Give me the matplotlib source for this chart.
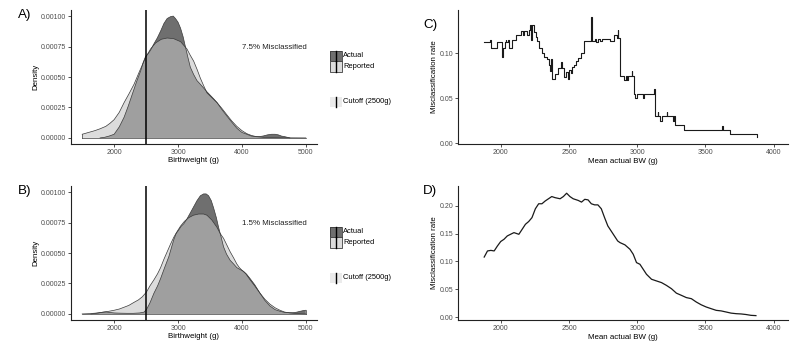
import matplotlib
matplotlib.use("Agg")
import matplotlib.pyplot as plt
from matplotlib.patches import Rectangle

plt.rcParams['font.family'] = ['Liberation Sans', 'DejaVu Sans']

# ---- panel A densities (7.5% misclassified) ----
a_act_x = [1780, 1850, 1920, 2000, 2080, 2156, 2220, 2285, 2350, 2415, 2455, 2493, 2530, 2570,
           2620, 2675, 2730, 2780, 2830, 2882, 2925, 2960, 3000, 3040, 3080, 3115, 3155, 3193,
           3245, 3297, 3350, 3400, 3450, 3505, 3560, 3610, 3690, 3764, 3840, 3920, 4000, 4076,
           4150, 4230, 4290, 4335, 4400, 4465, 4520, 4570, 4620, 4672, 4750]
a_act_y = [0, 0.05, 0.15, 0.3, 0.9, 1.7, 2.6, 3.6, 4.6, 5.5, 6.2, 6.7, 6.9, 7.2,
           7.7, 8.2, 8.8, 9.4, 9.8, 9.95, 10.0, 9.8, 9.5, 9.0, 8.3, 7.5, 6.6, 5.8,
           5.2, 4.7, 4.4, 4.1, 3.8, 3.5, 3.2, 2.9, 2.3, 1.8, 1.3, 0.8, 0.45, 0.3,
           0.15, 0.1, 0.12, 0.16, 0.25, 0.3, 0.3, 0.25, 0.15, 0.1, 0]
a_rep_x = [1500, 1600, 1700, 1780, 1870, 1935, 2000, 2080, 2156, 2230, 2311, 2400, 2493, 2570,
           2650, 2740, 2830, 2930, 3040, 3090, 3140, 3190, 3245, 3300, 3350, 3400, 3453, 3530,
           3610, 3690, 3764, 3840, 3920, 4000, 4076, 4150, 4230, 4350, 4500, 4700, 5000]
a_rep_y = [0.3, 0.45, 0.6, 0.75, 0.95, 1.2, 1.5, 2.1, 2.9, 3.6, 4.4, 5.5, 6.6, 7.3,
           7.8, 8.1, 8.2, 8.15, 7.9, 7.6, 7.3, 6.8, 6.3, 5.6, 4.9, 4.3, 3.7, 3.3,
           2.9, 2.4, 1.9, 1.4, 0.95, 0.6, 0.35, 0.2, 0.1, 0.04, 0.02, 0.01, 0.0]

# ---- panel B densities (1.5% misclassified) ----
b_act_x = [1637, 1700, 1760, 1820, 1870, 1930, 2000, 2100, 2200, 2300, 2400, 2470, 2510, 2560,
           2623, 2680, 2727, 2790, 2856, 2900, 2934, 2970, 3012, 3050, 3090, 3140, 3193, 3245,
           3297, 3350, 3400, 3440, 3478, 3520, 3557, 3600, 3635, 3675, 3713, 3760, 3816, 3870,
           3920, 3970, 4024, 4075, 4128, 4200, 4283, 4360, 4439, 4520, 4595, 4670, 4750, 4800,
           4854, 4900, 4958, 5000]
b_act_y = [0, 0.03, 0.08, 0.14, 0.16, 0.12, 0.08, 0.06, 0.05, 0.05, 0.08, 0.15, 0.4, 0.9,
           1.7, 2.3, 2.9, 3.8, 4.7, 5.5, 6.1, 6.6, 6.9, 7.2, 7.4, 7.8, 8.3, 8.8,
           9.3, 9.7, 9.85, 9.85, 9.7, 9.3, 8.7, 7.9, 7.1, 6.3, 5.5, 4.9, 4.4, 4.1,
           3.8, 3.65, 3.5, 3.25, 2.9, 2.4, 1.7, 1.1, 0.65, 0.35, 0.22, 0.12, 0.1, 0.1,
           0.14, 0.2, 0.27, 0.3]
b_rep_x = [1500, 1600, 1700, 1800, 1844, 1900, 2000, 2080, 2156, 2230, 2311, 2380, 2440, 2507,
           2560, 2623, 2680, 2727, 2780, 2830, 2880, 2934, 2990, 3038, 3100, 3168, 3240, 3323,
           3400, 3453, 3530, 3610, 3660, 3713, 3760, 3816, 3870, 3920, 3960, 3998, 4060, 4128,
           4200, 4283, 4360, 4439, 4520, 4595, 4670, 4750, 4850, 5000]
b_rep_y = [0.0, 0.02, 0.06, 0.12, 0.16, 0.2, 0.3, 0.4, 0.55, 0.7, 0.95, 1.15, 1.4, 1.8,
           2.3, 2.8, 3.3, 3.8, 4.5, 5.1, 5.7, 6.3, 6.8, 7.2, 7.6, 7.9, 8.1, 8.2,
           8.2, 8.1, 7.7, 7.1, 6.6, 6.2, 5.7, 5.1, 4.6, 4.1, 3.8, 3.6, 3.3, 2.8,
           2.3, 1.7, 1.2, 0.8, 0.5, 0.3, 0.15, 0.08, 0.03, 0.0]

# ---- panel C: step misclassification rate ----
c_x = [1879, 1925, 1928, 1976, 2008, 2018, 2030, 2036, 2040, 2055, 2062, 2080, 2100, 2110,
       2150, 2160, 2170, 2195, 2205, 2215, 2222, 2228, 2245, 2255, 2268, 2280, 2300, 2320,
       2340, 2355, 2360, 2368, 2374, 2398, 2420, 2440, 2452, 2465, 2478, 2490, 2500, 2515,
       2522, 2535, 2550, 2565, 2590, 2612, 2660, 2664, 2670, 2690, 2700, 2710, 2725, 2745,
       2785, 2800, 2830, 2850, 2857, 2862, 2874, 2905, 2915, 2925, 2935, 2960, 2965, 2975,
       2985, 2995, 3045, 3050, 3125, 3130, 3150, 3155, 3170, 3180, 3220, 3222, 3260, 3270,
       3280, 3345, 3620, 3630, 3680, 3875, 3880]
c_y = [0.112, 0.115, 0.106, 0.112, 0.096, 0.106, 0.112, 0.115, 0.112, 0.115, 0.106, 0.115, 0.115, 0.120,
       0.125, 0.120, 0.125, 0.120, 0.126, 0.131, 0.115, 0.131, 0.123, 0.118, 0.113, 0.106, 0.100, 0.096,
       0.093, 0.087, 0.080, 0.093, 0.071, 0.077, 0.083, 0.090, 0.083, 0.074, 0.079, 0.071, 0.081, 0.078,
       0.085, 0.087, 0.091, 0.095, 0.100, 0.113, 0.113, 0.140, 0.113, 0.116, 0.112, 0.116, 0.113, 0.116,
       0.116, 0.113, 0.120, 0.117, 0.126, 0.117, 0.075, 0.070, 0.075, 0.070, 0.075, 0.080, 0.075, 0.055,
       0.050, 0.055, 0.050, 0.055, 0.060, 0.030, 0.035, 0.030, 0.025, 0.030, 0.035, 0.030, 0.025, 0.030,
       0.020, 0.015, 0.019, 0.015, 0.010, 0.007, 0.007]

# ---- panel D: smoothed misclassification rate ----
d_x = [1879, 1903, 1928, 1952, 1976, 2000, 2024, 2048, 2072, 2097, 2121, 2133, 2157, 2181,
       2205, 2229, 2254, 2278, 2302, 2326, 2350, 2374, 2398, 2435, 2459, 2483, 2507, 2531,
       2568, 2592, 2616, 2640, 2664, 2688, 2712, 2737, 2761, 2785, 2809, 2833, 2857, 2874,
       2910, 2947, 2971, 2995, 3020, 3044, 3068, 3105, 3141, 3178, 3214, 3251, 3287, 3324,
       3360, 3397, 3433, 3469, 3506, 3542, 3579, 3615, 3652, 3688, 3725, 3761, 3797, 3834, 3870]
d_y = [0.108, 0.119, 0.120, 0.119, 0.128, 0.136, 0.140, 0.146, 0.149, 0.152, 0.150, 0.149, 0.158, 0.167,
       0.172, 0.179, 0.195, 0.204, 0.204, 0.209, 0.213, 0.217, 0.215, 0.213, 0.217, 0.223, 0.217, 0.213,
       0.210, 0.207, 0.212, 0.211, 0.204, 0.202, 0.202, 0.195, 0.179, 0.164, 0.155, 0.146, 0.137, 0.134,
       0.130, 0.122, 0.113, 0.098, 0.095, 0.086, 0.077, 0.068, 0.065, 0.062, 0.057, 0.051, 0.043, 0.039,
       0.035, 0.033, 0.027, 0.022, 0.018, 0.015, 0.012, 0.011, 0.009, 0.007, 0.006, 0.0055, 0.0045, 0.003, 0.0025]

cutoff = 2500
misclass_labels = ['7.5% Misclassified', '1.5% Misclassified']
legend_labels = ['Actual', 'Reported', 'Cutoff (2500g)']
dens_ticks = [0, 0.00025, 0.0005, 0.00075, 0.001]

ACT_COL, REP_COL, ALPHA = '#080808', '#c3c3c3', 0.586
EDGE = '#3a3a3a'
TICK_COL = '#4d4d4d'
TICK_FS, TITLE_FS = 5.0, 5.7

fig = plt.figure(figsize=(8, 3.52), dpi=100)
ax_a = fig.add_axes([0.08875, 0.5909, 0.3075, 0.3807])
ax_b = fig.add_axes([0.08875, 0.0909, 0.3075, 0.3807])
ax_c = fig.add_axes([0.5725, 0.5909, 0.4125, 0.3807])
ax_d = fig.add_axes([0.5725, 0.0909, 0.4125, 0.3807])


def style(ax):
    for s in ['top', 'right']:
        ax.spines[s].set_visible(False)
    for s in ['left', 'bottom']:
        ax.spines[s].set_linewidth(0.8)
        ax.spines[s].set_color('#222222')
    ax.tick_params(labelsize=TICK_FS, labelcolor=TICK_COL, color='#333333',
                   length=2, width=0.6, pad=1.5)


def legend_key(ax, x0, y0, y1, face, alpha, edge, line_x):
    ax.add_patch(Rectangle((x0, y0), 0.047, y1 - y0, transform=ax.transAxes, clip_on=False,
                           facecolor=face, alpha=alpha, edgecolor='none'))
    if edge:
        ax.add_patch(Rectangle((x0, y0), 0.047, y1 - y0, transform=ax.transAxes, clip_on=False,
                               facecolor='none', edgecolor=edge, lw=0.6))
    ax.plot([line_x, line_x], [y0, y1], transform=ax.transAxes, clip_on=False,
            color='black', lw=1.0)


def density_panel(ax, ax_x, ax_y, rep_x, rep_y, label):
    ay = [v * 1e-4 for v in ax_y]
    ry = [v * 1e-4 for v in rep_y]
    ax.fill_between(ax_x, ay, 0, facecolor=ACT_COL, alpha=ALPHA, edgecolor='none')
    ax.fill_between(rep_x, ry, 0, facecolor=REP_COL, alpha=ALPHA, edgecolor='none')
    ax.plot(ax_x, ay, color=EDGE, lw=0.5)
    ax.plot(rep_x, ry, color=EDGE, lw=0.5)
    ax.plot([rep_x[0], rep_x[0]], [0, ry[0]], color=EDGE, lw=0.5)
    ax.plot([ax_x[-1], ax_x[-1]], [0, ay[-1]], color=EDGE, lw=0.5)
    ax.plot([min(ax_x[0], rep_x[0]), max(ax_x[-1], rep_x[-1])], [0, 0], color=EDGE, lw=0.5)
    ax.axvline(cutoff, color='black', lw=1.1)
    ax.set_xlim(1325, 5175)
    ax.set_ylim(-0.00005, 0.00105)
    ax.set_xticks([2000, 3000, 4000, 5000])
    ax.set_yticks(dens_ticks)
    ax.set_yticklabels(['%.5f' % t for t in dens_ticks])
    ax.set_xlabel('Birthweight (g)', fontsize=TITLE_FS)
    ax.set_ylabel('Density', fontsize=TITLE_FS)
    ax.xaxis.set_label_coords(0.5, -0.1)
    ax.yaxis.set_label_coords(-0.13, 0.5)
    ax.text(4510, 0.000745, label, fontsize=5.7, ha='center', va='center', color='#222222')
    style(ax)

    # legend drawn as in ggplot: filled keys with the vline running through them
    legend_key(ax, 1.053, 0.622, 0.696, ACT_COL, ALPHA, EDGE, 1.0765)
    legend_key(ax, 1.053, 0.540, 0.622, REP_COL, ALPHA, EDGE, 1.0765)
    legend_key(ax, 1.053, 0.278, 0.353, '#ebebeb', 1.0, None, 1.077)
    ax.text(1.106, 0.659, legend_labels[0], transform=ax.transAxes, fontsize=5.4, va='center')
    ax.text(1.106, 0.581, legend_labels[1], transform=ax.transAxes, fontsize=5.4, va='center')
    ax.text(1.106, 0.316, legend_labels[2], transform=ax.transAxes, fontsize=5.4, va='center')


density_panel(ax_a, a_act_x, a_act_y, a_rep_x, a_rep_y, misclass_labels[0])
density_panel(ax_b, b_act_x, b_act_y, b_rep_x, b_rep_y, misclass_labels[1])

# C
ax_c.step(c_x, c_y, where='post', color='#1a1a1a', lw=0.8)
ax_c.set_xlim(1687, 4105)
ax_c.set_ylim(-0.001, 0.148)
ax_c.set_yticks([0, 0.05, 0.10])
ax_c.set_yticklabels(['0.00', '0.05', '0.10'])

# D
ax_d.plot(d_x, d_y, color='#1a1a1a', lw=0.9)
ax_d.set_xlim(1687, 4105)
ax_d.set_ylim(-0.0054, 0.236)
ax_d.set_yticks([0, 0.05, 0.10, 0.15, 0.20])
ax_d.set_yticklabels(['0.00', '0.05', '0.10', '0.15', '0.20'])

for ax in (ax_c, ax_d):
    ax.set_xticks([2000, 2500, 3000, 3500, 4000])
    ax.set_xlabel('Mean actual BW (g)', fontsize=TITLE_FS)
    ax.set_ylabel('Misclassification rate', fontsize=TITLE_FS)
    ax.xaxis.set_label_coords(0.5, -0.105)
    ax.yaxis.set_label_coords(-0.061, 0.5)
    style(ax)

fig.text(0.022, 0.957, 'A)', fontsize=9.6, ha='left', va='center')
fig.text(0.022, 0.457, 'B)', fontsize=9.6, ha='left', va='center')
fig.text(0.529, 0.929, 'C)', fontsize=9.6, ha='left', va='center')
fig.text(0.529, 0.457, 'D)', fontsize=9.6, ha='left', va='center')

fig.savefig('out.png', dpi=100)
